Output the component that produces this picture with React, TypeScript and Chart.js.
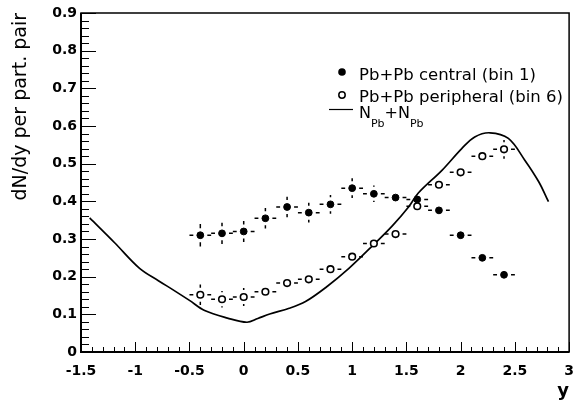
import { useEffect, useRef } from 'react';
import { Chart, registerables } from 'chart.js';

Chart.register(...registerables);

// ---------------- data ----------------
const binCenters = [-0.4, -0.2, 0, 0.2, 0.4, 0.6, 0.8, 1.0, 1.2, 1.4, 1.6, 1.8, 2.0, 2.2, 2.4];
const binHalfWidth = 0.1;
const centralVals = [0.31, 0.315, 0.32, 0.355, 0.385, 0.37, 0.392, 0.435, 0.42, 0.41, 0.405, 0.376, 0.31, 0.25, 0.205];
const centralErr = [0.03, 0.028, 0.028, 0.027, 0.027, 0.026, 0.025, 0.026, 0.022, 0.02, 0.02, 0.018, 0.016, 0.014, 0.012];
const peripheralVals = [0.152, 0.14, 0.146, 0.16, 0.183, 0.193, 0.22, 0.253, 0.288, 0.313, 0.387, 0.444, 0.477, 0.52, 0.538];
const peripheralErr = [0.027, 0.022, 0.024, 0.02, 0.018, 0.016, 0.015, 0.014, 0.014, 0.014, 0.014, 0.015, 0.016, 0.018, 0.025];
const curveX = [-1.42, -1.19, -0.96, -0.79, -0.64, -0.5, -0.36, -0.15, 0.03, 0.13, 0.24, 0.42, 0.57, 0.76, 0.97, 1.18, 1.37, 1.52, 1.61, 1.83, 2.01, 2.13, 2.27, 2.44, 2.59, 2.72, 2.81];
const curveY = [0.356, 0.29, 0.222, 0.19, 0.163, 0.137, 0.11, 0.09, 0.079, 0.089, 0.101, 0.116, 0.134, 0.172, 0.222, 0.28, 0.335, 0.385, 0.422, 0.483, 0.54, 0.571, 0.582, 0.567, 0.51, 0.452, 0.399];

const xTickValues = [-1.5, -1, -0.5, 0, 0.5, 1, 1.5, 2, 2.5, 3];
const xTickLabels = ['-1.5', '-1', '-0.5', '0', '0.5', '1', '1.5', '2', '2.5', '3'];
const yTickValues = [0, 0.1, 0.2, 0.3, 0.4, 0.5, 0.6, 0.7, 0.8, 0.9];
const yTickLabels = ['0', '0.1', '0.2', '0.3', '0.4', '0.5', '0.6', '0.7', '0.8', '0.9'];

const legendCentral = 'Pb+Pb central (bin 1)';
const legendPeripheral = 'Pb+Pb peripheral (bin 6)';
const yTitle = 'dN/dy per part. pair';
const xTitle = 'y';

const FONT = "'DejaVu Sans', 'Liberation Sans', Arial, sans-serif";

const errorSets = [
  { vals: centralVals, errs: centralErr },
  { vals: peripheralVals, errs: peripheralErr },
];

const rootPlugin = {
  id: 'rootStyle',
  beforeDatasetsDraw(chart: any) {
    const { ctx, scales } = chart;
    const xs = scales.x;
    const ys = scales.y;
    ctx.save();
    ctx.strokeStyle = '#000';
    ctx.lineWidth = 1.5;
    const gap = 7;
    errorSets.forEach((set) => {
      binCenters.forEach((bx, i) => {
        const cx = xs.getPixelForValue(bx);
        const cy = ys.getPixelForValue(set.vals[i]);
        const xl = xs.getPixelForValue(bx - binHalfWidth);
        const xr = xs.getPixelForValue(bx + binHalfWidth);
        const yt = ys.getPixelForValue(set.vals[i] + set.errs[i]);
        const yb = ys.getPixelForValue(set.vals[i] - set.errs[i]);
        ctx.beginPath();
        if (cx - xl > gap + 1) {
          ctx.moveTo(xl, cy); ctx.lineTo(cx - gap, cy);
          ctx.moveTo(cx + gap, cy); ctx.lineTo(xr, cy);
        }
        if (cy - yt > gap + 1) {
          ctx.moveTo(cx, yt); ctx.lineTo(cx, cy - gap);
          ctx.moveTo(cx, cy + gap); ctx.lineTo(cx, yb);
        }
        ctx.stroke();
      });
    });
    ctx.restore();
  },
  afterDraw(chart: any) {
    const { ctx, scales, chartArea } = chart;
    const xs = scales.x;
    const ys = scales.y;
    const { left, right, top, bottom } = chartArea;
    ctx.save();
    ctx.strokeStyle = '#000';
    // inward ticks: y axis
    ctx.lineWidth = 1;
    ctx.beginPath();
    for (let k = 0; k <= 45; k++) {
      const v = k * 0.02;
      const py = Math.round(ys.getPixelForValue(v)) + 0.5;
      const major = k % 5 === 0;
      ctx.moveTo(left, py);
      ctx.lineTo(left + (major ? 15 : 8), py);
    }
    // inward ticks: x axis
    for (let k = 0; k <= 45; k++) {
      const v = -1.5 + k * 0.1;
      const px = Math.round(xs.getPixelForValue(v)) + 0.5;
      const major = k % 5 === 0;
      ctx.moveTo(px, bottom);
      ctx.lineTo(px, bottom - (major ? 10 : 5));
    }
    ctx.stroke();
    // frame
    ctx.lineWidth = 1.5;
    ctx.strokeRect(left, top, right - left, bottom - top);
    ctx.lineWidth = 2;
    ctx.beginPath();
    ctx.moveTo(left, top); ctx.lineTo(left, bottom); ctx.lineTo(right, bottom);
    ctx.stroke();

    // legend
    ctx.fillStyle = '#000';
    ctx.beginPath();
    ctx.arc(342, 72, 3.8, 0, Math.PI * 2);
    ctx.fill();
    ctx.lineWidth = 1.5;
    ctx.beginPath();
    ctx.arc(342, 95, 3.2, 0, Math.PI * 2);
    ctx.stroke();
    ctx.lineWidth = 1.2;
    ctx.beginPath();
    ctx.moveTo(329, 109.5); ctx.lineTo(353, 109.5);
    ctx.stroke();

    ctx.textAlign = 'left';
    ctx.textBaseline = 'alphabetic';
    ctx.font = `16.5px ${FONT}`;
    ctx.fillText(legendCentral, 359, 79.5);
    ctx.fillText(legendPeripheral, 359, 102);
    let x = 359;
    const main = `16px ${FONT}`;
    const sub = `11px ${FONT}`;
    const parts: [string, boolean][] = [['N', false], ['Pb', true], ['+N', false], ['Pb', true]];
    parts.forEach(([t, isSub]) => {
      ctx.font = isSub ? sub : main;
      ctx.fillText(t, x, isSub ? 127 : 118);
      x += ctx.measureText(t).width;
    });
    ctx.restore();
  },
};

export default function App() {
  const ref = useRef<HTMLCanvasElement>(null);
  useEffect(() => {
    document.body.style.margin = '0';
    const canvas = ref.current!;
    const chart = new Chart(canvas, {
      type: 'scatter',
      data: {
        datasets: [
          {
            label: legendCentral,
            data: binCenters.map((x, i) => ({ x, y: centralVals[i] })),
            pointRadius: 3.4,
            pointBorderWidth: 1,
            backgroundColor: '#000',
            borderColor: '#000',
            pointHoverRadius: 3.4,
          },
          {
            label: legendPeripheral,
            data: binCenters.map((x, i) => ({ x, y: peripheralVals[i] })),
            pointRadius: 3.3,
            pointBorderWidth: 1.6,
            backgroundColor: '#fff',
            borderColor: '#000',
            pointHoverRadius: 3.3,
          },
          {
            label: 'NPb+NPb',
            data: curveX.map((x, i) => ({ x, y: curveY[i] })),
            showLine: true,
            pointRadius: 0,
            borderColor: '#000',
            borderWidth: 1.7,
            tension: 0.35,
            fill: false,
          } as any,
        ],
      },
      options: {
        animation: false,
        responsive: false,
        devicePixelRatio: 1,
        events: [],
        layout: { padding: { left: 0, right: 3, top: 13, bottom: 0 } },
        plugins: { legend: { display: false }, tooltip: { enabled: false } },
        scales: {
          x: {
            type: 'linear',
            min: -1.5,
            max: 3,
            grid: { display: false, drawTicks: false },
            border: { display: false },
            afterBuildTicks: (s: any) => { s.ticks = xTickValues.map((value) => ({ value })); },
            afterFit: (s: any) => { s.height = 52; s.paddingLeft = 0; s.paddingRight = 0; },
            ticks: {
              color: '#000',
              padding: 11,
              maxRotation: 0,
              autoSkip: false,
              font: { family: FONT, size: 14, weight: 'bold' },
              callback: (_v: any, i: number) => xTickLabels[i],
            },
            title: {
              display: true,
              text: xTitle,
              align: 'end',
              color: '#000',
              font: { family: FONT, size: 18, weight: 'bold' },
              padding: { top: 0, bottom: 2 },
            },
          },
          y: {
            type: 'linear',
            min: 0,
            max: 0.9,
            grid: { display: false, drawTicks: false },
            border: { display: false },
            afterBuildTicks: (s: any) => { s.ticks = yTickValues.map((value) => ({ value })); },
            afterFit: (s: any) => { s.width = 81; s.paddingTop = 0; s.paddingBottom = 0; },
            ticks: {
              color: '#000',
              padding: 4,
              autoSkip: false,
              font: { family: FONT, size: 14, weight: 'bold' },
              callback: (_v: any, i: number) => yTickLabels[i],
            },
            title: {
              display: true,
              text: yTitle,
              align: 'end',
              color: '#000',
              font: { family: FONT, size: 19 },
              padding: { top: 10, bottom: 0 },
            },
          },
        },
      } as any,
      plugins: [rootPlugin],
    });
    return () => chart.destroy();
  }, []);
  return (
    <div style={{ width: 574, height: 404, background: '#fff' }}>
      <canvas ref={ref} width={574} height={404} style={{ display: 'block', width: 574, height: 404 }} />
    </div>
  );
}
